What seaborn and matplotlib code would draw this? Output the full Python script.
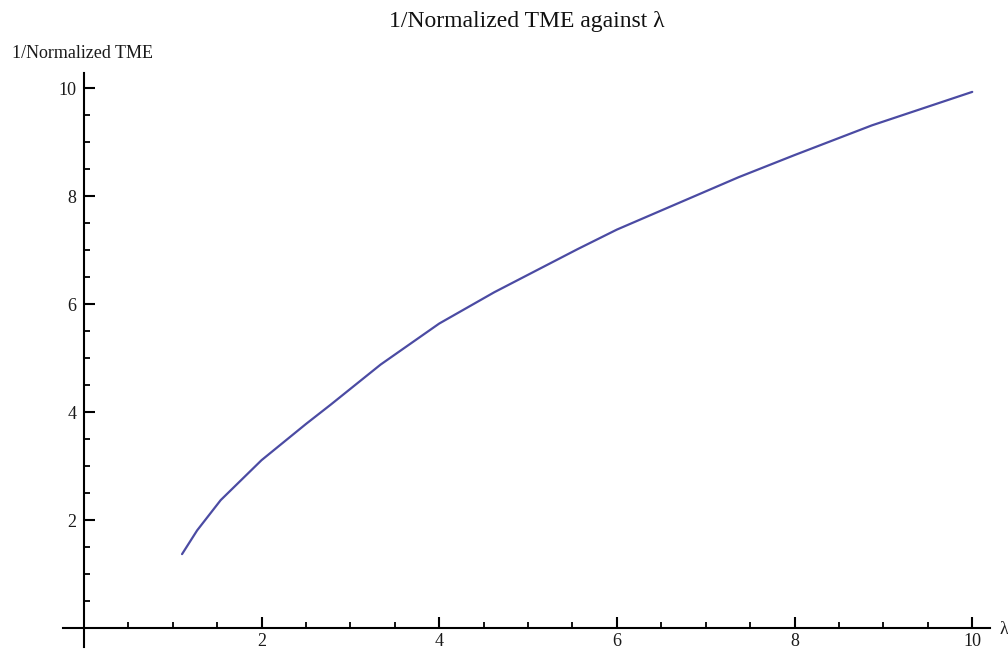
import matplotlib
matplotlib.use("Agg")
import matplotlib.pyplot as plt
import seaborn as sns
import pandas as pd
from matplotlib.ticker import MultipleLocator

# Data
lam = [1.105, 1.275, 1.54, 2.0, 2.50, 2.78, 3.34, 4.0, 4.62, 5.56, 6.0, 7.37, 8.0, 8.87, 10.0]
inv_tme = [1.37, 1.81, 2.37, 3.11, 3.78, 4.14, 4.88, 5.64, 6.22, 7.02, 7.38, 8.35, 8.76, 9.31, 9.93]
x_ticks = [2, 4, 6, 8, 10]
y_ticks = [2, 4, 6, 8, 10]

title = "1/Normalized TME against λ"
y_label = "1/Normalized TME"
x_label = "λ"

sns.set_theme(style="white")
plt.rcParams['font.family'] = ['Liberation Serif', 'DejaVu Serif']

df = pd.DataFrame({"lam": lam, "val": inv_tme})

fig = plt.figure(figsize=(10.08, 6.54), dpi=100)
ax = fig.add_axes([63 / 1008, 7 / 654, 927 / 1008, 574 / 654])

sns.lineplot(data=df, x="lam", y="val", ax=ax, color="#4b4ba3", linewidth=1.6)

ax.set_xlim(-0.235, 10.2)
ax.set_ylim(-0.35, 10.28)

for s in ["top", "right"]:
    ax.spines[s].set_visible(False)
for s in ["left", "bottom"]:
    ax.spines[s].set_position(("data", 0))
    ax.spines[s].set_color("black")
    ax.spines[s].set_linewidth(1.5)

ax.set_xticks(x_ticks)
ax.set_yticks(y_ticks)
ax.xaxis.set_minor_locator(MultipleLocator(0.5))
ax.yaxis.set_minor_locator(MultipleLocator(0.5))
ax.tick_params(axis="both", which="both", bottom=True, left=True, top=False, right=False)
ax.tick_params(axis="both", which="major", direction="in", length=8, width=1.5,
               color="black", labelsize=13, labelcolor="#1a1a1a")
ax.tick_params(axis="both", which="minor", direction="in", length=4.5, width=1.3,
               color="black")
ax.tick_params(axis="x", which="major", pad=3.5)
ax.tick_params(axis="y", which="major", pad=5.5)
ax.set_xlabel("")
ax.set_ylabel("")
ax.grid(False)

fig.text(527 / 1008, 1 - 22 / 654, title, ha="center", va="center", fontsize=17, color="#111111")
fig.text(12 / 1008, 1 - 53 / 654, y_label, ha="left", va="center", fontsize=13, color="#1a1a1a")
fig.text(1000 / 1008, 1 - 630 / 654, x_label, ha="left", va="center", fontsize=13, color="#1a1a1a")

fig.savefig("out.png", dpi=100)
